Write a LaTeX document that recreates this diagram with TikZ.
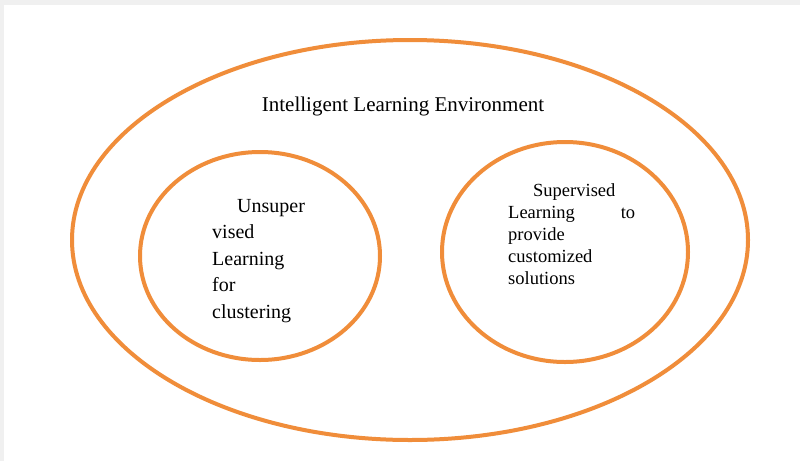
\documentclass[tikz,border=0pt]{standalone}
\usepackage{fontspec}
\setmainfont{Liberation Serif}
\usetikzlibrary{shapes.geometric}
\definecolor{ilering}{RGB}{240,141,58}
\definecolor{ileframe}{RGB}{240,240,240}
\tikzset{
  ering/.style={ellipse, draw=ilering, line width=4pt, inner sep=0pt},
  etitle/.style={font=\fontsize{21}{26}\selectfont, anchor=base, inner sep=0pt},
  etxt/.style={anchor=north west, inner sep=0pt, align=left}
}

\begin{document}
\begin{tikzpicture}[x=1pt, y=-1pt]
    % page and frame
    \useasboundingbox (0,0) rectangle (800,461);
    \fill[white] (0,0) rectangle (800,461);
    \fill[ileframe] (0,0) rectangle (800,5);
    \fill[ileframe] (0,0) rectangle (4,461);
    % environment
    \node[ering, minimum width=676pt, minimum height=400pt] (env) at (410,240) {};
    \node[etitle] (envlbl) at (403,111) {Intelligent Learning Environment};
    % unsupervised
    \node[ering, minimum width=240pt, minimum height=208pt] (unsup) at (260,256) {};
    \node[etxt, text width=100pt, font=\fontsize{20}{26.5}\selectfont] (unsuptxt) at (212,199)
      {\hspace*{25pt}Unsuper\\ vised\\ Learning\\ for\\ clustering};
    % supervised
    \node[ering, minimum width=246pt, minimum height=220pt] (sup) at (565,252) {};
    \node[etxt, text width=127pt, font=\fontsize{18.5}{22.2}\selectfont] (suptxt) at (508,183)
      {\hspace*{25pt}Supervised\\ Learning\hfill to\\ provide\\ customized\\ solutions};
  \end{tikzpicture}
\end{document}
